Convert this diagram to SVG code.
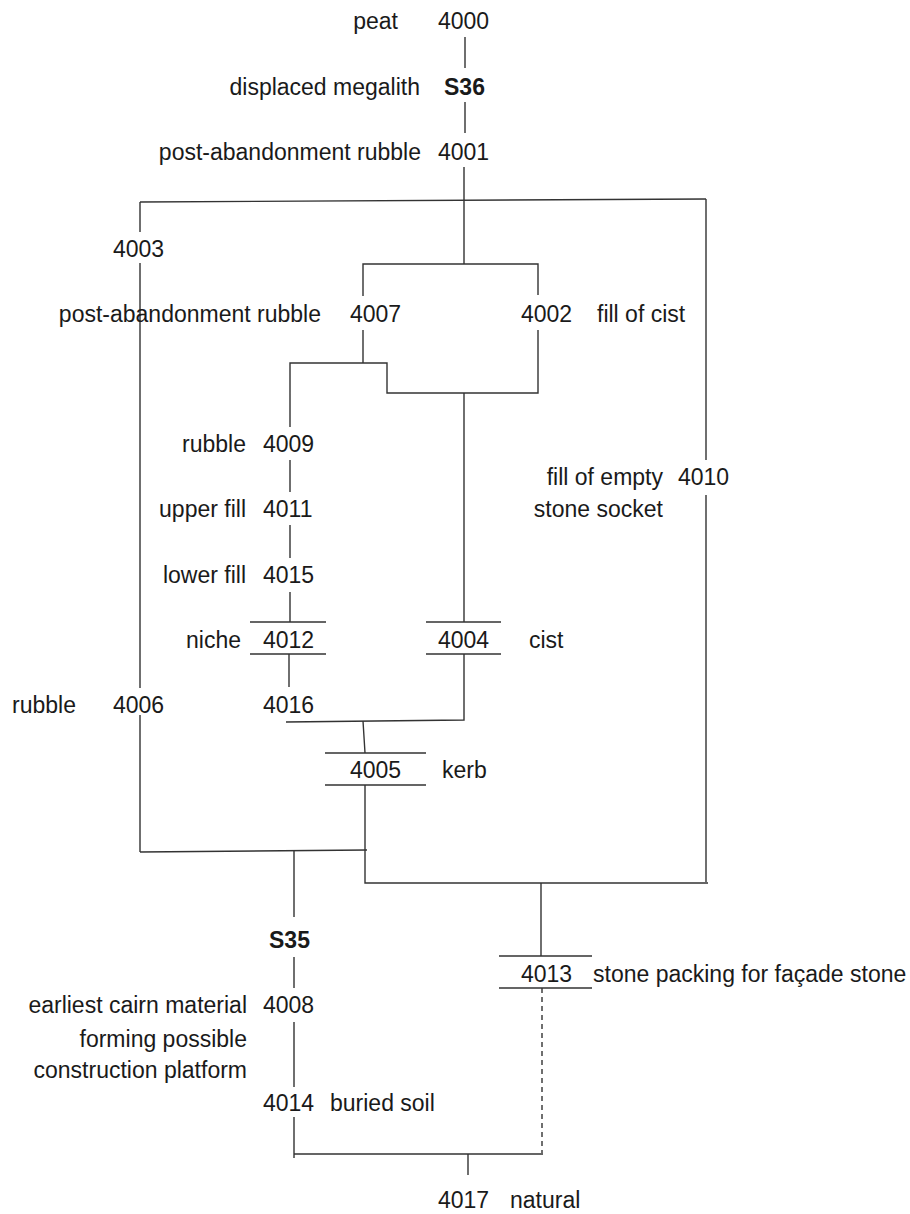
<svg xmlns="http://www.w3.org/2000/svg" width="910" height="1214" viewBox="0 0 910 1214">
<style>
text{font-family:"Liberation Sans",Arial,sans-serif;font-size:23px;fill:#1a1a1a}
.b{font-weight:bold}
.e{text-anchor:end}
.ln{fill:none;stroke:#333;stroke-width:1.4}
.d{stroke-dasharray:5 4}
</style>
<rect width="910" height="1214" fill="#fff"/>
<g id="connectors" class="ln">
<path class="ln" d="M465 37V68M465 102V133M464 167V264"/>
<path class="ln" d="M140 202L706 199"/>
<path class="ln" d="M140 202V232M140 263V688M140 715V852"/>
<path class="ln" d="M706 199V460M706 495V882"/>
<path class="ln" d="M363 296V264H538V295"/>
<path class="ln" d="M363 330V363M290 427V363H387V393H538V330"/>
<path class="ln" d="M464 393V622"/>
<path class="ln" d="M290 460V492M290 525V558M290 592V622"/>
<path class="ln" d="M289 654V687"/>
<path class="ln" d="M464 654V720L286 722"/>
<path class="ln" d="M363 721L365 753"/>
<path class="ln" d="M365 785V883H708"/>
<path class="ln" d="M140 852L367 850"/>
<path class="ln" d="M294 851V917M294 957V988M294 1022V1087M294 1117V1158M294 1154H543"/>
<path class="ln" d="M541 883V956"/>
<path class="ln d" d="M542 988V1153"/>
<path class="ln" d="M468 1154V1175"/>
</g>
<g id="n4000"><text x="398" y="29" class="e">peat</text><text x="438" y="29">4000</text></g>
<g id="nS36"><text x="420" y="95" class="e">displaced megalith</text><text x="444" y="95" class="b">S36</text></g>
<g id="n4001"><text x="421" y="160" class="e">post-abandonment rubble</text><text x="438" y="160">4001</text></g>
<g id="n4003"><text x="113" y="257">4003</text></g>
<g id="n4007"><text x="321" y="322" class="e">post-abandonment rubble</text><text x="350" y="322">4007</text></g>
<g id="n4002"><text x="521" y="322">4002</text><text x="597" y="322">fill of cist</text></g>
<g id="n4009"><text x="246" y="452" class="e">rubble</text><text x="263" y="452">4009</text></g>
<g id="n4010"><text x="663" y="485" class="e">fill of empty</text><text x="663" y="517" class="e">stone socket</text><text x="678" y="485">4010</text></g>
<g id="n4011"><text x="246" y="517" class="e">upper fill</text><text x="263" y="517">4011</text></g>
<g id="n4015"><text x="246" y="583" class="e">lower fill</text><text x="263" y="583">4015</text></g>
<g id="n4012"><path class="ln" d="M250 622H326M250 654H326"/><text x="241" y="648" class="e">niche</text><text x="263" y="648">4012</text></g>
<g id="n4004"><path class="ln" d="M426 622H501M426 654H501"/><text x="438" y="648">4004</text><text x="529" y="648">cist</text></g>
<g id="n4006"><text x="12" y="713">rubble</text><text x="113" y="713">4006</text></g>
<g id="n4016"><text x="263" y="713">4016</text></g>
<g id="n4005"><path class="ln" d="M325 753H426M325 785H426"/><text x="350" y="778">4005</text><text x="442" y="778">kerb</text></g>
<g id="nS35"><text x="269" y="948" class="b">S35</text></g>
<g id="n4013"><path class="ln" d="M499 956H592M499 988H592"/><text x="521" y="982">4013</text><text x="593" y="982">stone packing for façade stone</text></g>
<g id="n4008"><text x="247" y="1013" class="e">earliest cairn material</text><text x="247" y="1047" class="e">forming possible</text><text x="247" y="1078" class="e">construction platform</text><text x="263" y="1013">4008</text></g>
<g id="n4014"><text x="263" y="1111">4014</text><text x="330" y="1111">buried soil</text></g>
<g id="n4017"><text x="438" y="1208">4017</text><text x="510" y="1208">natural</text></g>
</svg>
